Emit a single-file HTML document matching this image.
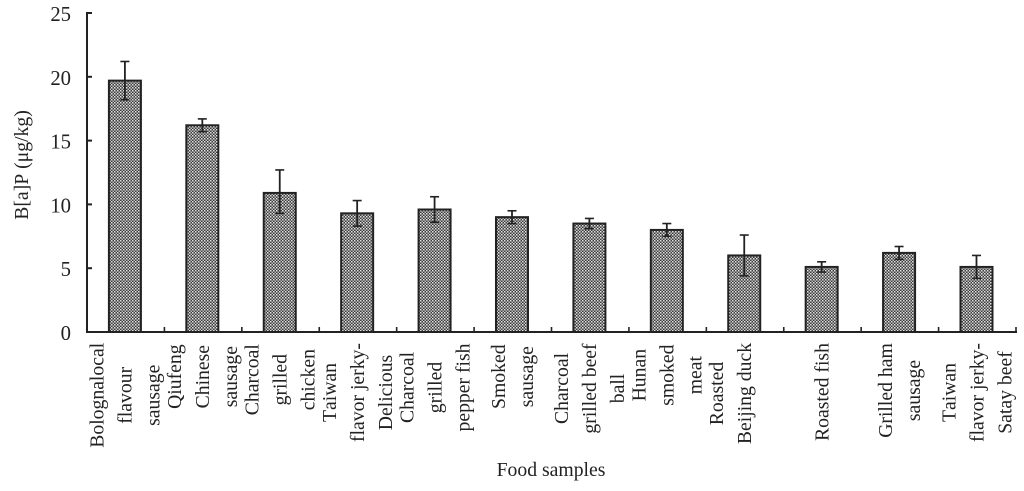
<!DOCTYPE html>
<html lang="en">
<head>
<meta charset="utf-8">
<title>B[a]P in food samples</title>
<style>
  html, body { margin: 0; padding: 0; background: #fff; }
  body { width: 1024px; height: 491px; overflow: hidden; }
  svg { display: block; }
  text { font-family: "Liberation Serif", serif; fill: #222; font-kerning: none; }
</style>
</head>
<body>
<svg id="chart" xmlns="http://www.w3.org/2000/svg" width="1024" height="491" viewBox="0 0 1024 491">
  <defs>
    <pattern id="checker" width="3" height="3" patternUnits="userSpaceOnUse">
      <rect width="3" height="3" fill="#3c3c3c"></rect>
      <rect width="1.5" height="1.5" fill="#e4e4e4"></rect>
      <rect x="1.5" y="1.5" width="1.5" height="1.5" fill="#bcbcbc"></rect>
    </pattern>
  </defs>
  <g id="bars"></g>
  <g id="errors"></g>
  <g id="axes"></g>
  <g id="ylabels"></g>
  <g id="xlabels"></g>
  <text transform="translate(28,165) rotate(-90)" text-anchor="middle" font-size="19.7">B[a]P (μg/kg)</text>
  <text x="551" y="476" text-anchor="middle" font-size="19.7">Food samples</text>
</svg>
<script>
const categories = [
  ["Bolognalocal", "flavour", "sausage"],
  ["Qiufeng", "Chinese", "sausage"],
  ["Charcoal", "grilled", "chicken"],
  ["Taiwan", "flavor jerky-", "Delicious"],
  ["Charcoal", "grilled", "pepper fish"],
  ["Smoked", "sausage"],
  ["Charcoal", "grilled beef", "ball"],
  ["Hunan", "smoked", "meat"],
  ["Roasted", "Beijing duck", ""],
  ["Roasted fish"],
  ["Grilled ham", "sausage"],
  ["Taiwan", "flavor jerky-", "Satay beef"]
];
const values = [19.7, 16.2, 10.9, 9.3, 9.6, 9.0, 8.5, 8.0, 6.0, 5.1, 6.2, 5.1];
const errorHigh = [21.2, 16.7, 12.7, 10.3, 10.6, 9.5, 8.9, 8.5, 7.6, 5.5, 6.7, 6.0];
const errorLow = [18.2, 15.7, 9.3, 8.3, 8.6, 8.5, 8.1, 7.5, 4.4, 4.7, 5.7, 4.2];
const yTicks = [0, 5, 10, 15, 20, 25];

const NS = "http://www.w3.org/2000/svg";
const plotLeft = 87, plotRight = 1016, plotTop = 13, plotBottom = 332, yMax = 25;
const band = (plotRight - plotLeft) / categories.length;
const barWidth = 32;
const barShift = -0.8;
const capWidth = 9;
const lineGap = 28;
const labelTop = 347;
const labelCenterFactor = 0.46;

function yScale(v) { return plotBottom - (v / yMax) * (plotBottom - plotTop); }
function xCenter(i) { return plotLeft + band * (i + 0.5) + barShift; }
function xEdge(i) { return plotLeft + band * i; }

function make(tag, attrs) {
  const el = document.createElementNS(NS, tag);
  for (const k in attrs) el.setAttribute(k, attrs[k]);
  return el;
}
function line(parent, x1, y1, x2, y2, w) {
  const el = make("line", { x1: x1, y1: y1, x2: x2, y2: y2, stroke: "#222", "stroke-width": w });
  parent.appendChild(el);
  return el;
}

const barsG = document.getElementById("bars");
const errG = document.getElementById("errors");
const axesG = document.getElementById("axes");
const yG = document.getElementById("ylabels");
const xG = document.getElementById("xlabels");

values.forEach(function (v, i) {
  const top = yScale(v);
  const bar = make("rect", {
    x: xCenter(i) - barWidth / 2, y: top, width: barWidth, height: plotBottom - top,
    fill: "url(#checker)", stroke: "#222", "stroke-width": 2
  });
  
  
  barsG.appendChild(bar);

  const cx = xCenter(i), hi = yScale(errorHigh[i]), lo = yScale(errorLow[i]);
  const stem = line(errG, cx, hi, cx, lo, 1.8);
  
  
  const capTop = line(errG, cx - capWidth / 2, hi, cx + capWidth / 2, hi, 1.6);
  
  
  const capLow = line(errG, cx - capWidth / 2, lo, cx + capWidth / 2, lo, 1.6);
  
  
});

const yAxis = line(axesG, plotLeft, plotTop - 1, plotLeft, plotBottom + 1, 2);


const xAxis = line(axesG, plotLeft - 1, plotBottom, plotRight + 1, plotBottom, 2);



yTicks.forEach(function (t) {
  const y = yScale(t);
  const tick = line(axesG, plotLeft, y, plotLeft + 5, y, 2);
  
  
  const label = make("text", { x: 71, y: y + 8, "text-anchor": "end", "font-size": 20.7 });
  
  
  label.textContent = t;
  yG.appendChild(label);
});

categories.forEach(function (lines, i) {
  const tick = line(axesG, xEdge(i + 1), plotBottom, xEdge(i + 1), plotBottom - 5, 1.6);
  
  

  const group = make("g", {});
  
  
  xG.appendChild(group);

  const els = lines.map(function (txt) {
    const el = make("text", { "text-anchor": "middle", "font-size": 19.7 });
    
    
    el.textContent = txt;
    group.appendChild(el);
    return el;
  });
  const longest = Math.max.apply(null, els.map(function (e) { return e.getComputedTextLength(); }));
  const cy = labelTop + longest * labelCenterFactor;
  els.forEach(function (el, j) {
    const lx = plotLeft + band * (i + 0.5) + (j - (lines.length - 1) / 2) * lineGap;
    el.setAttribute("transform", "translate(" + (lx + 6) + "," + cy + ") rotate(-90)");
  });
});
</script>
</body>
</html>
